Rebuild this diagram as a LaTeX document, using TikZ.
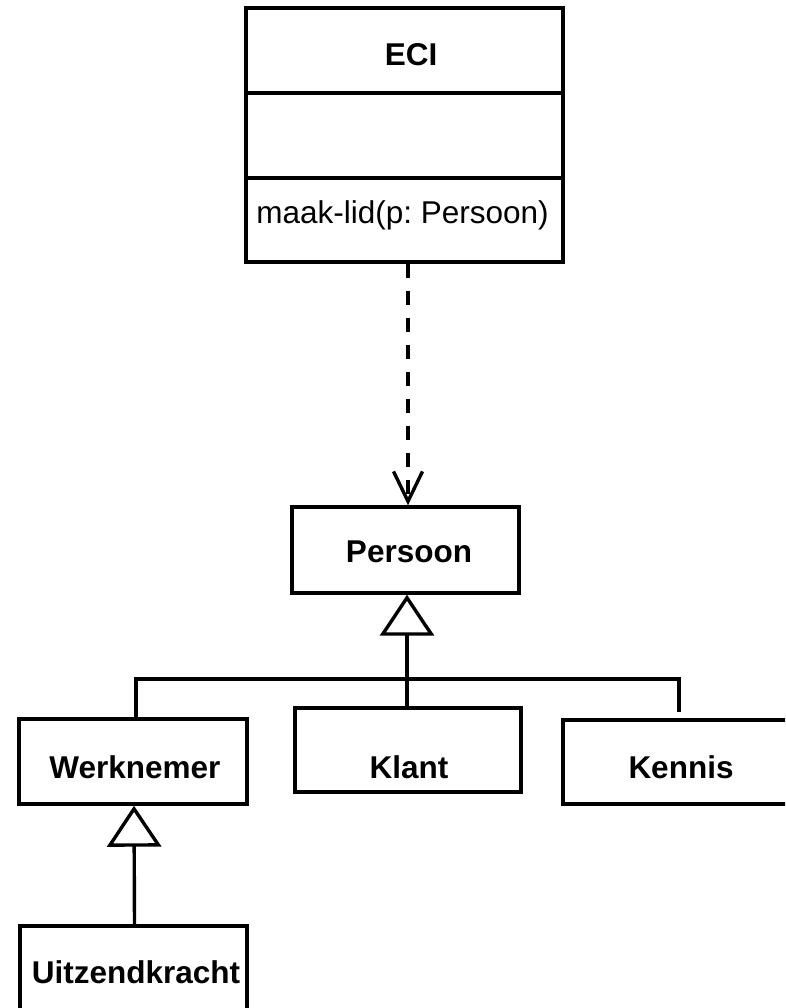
\documentclass[tikz,border=0pt]{standalone}
\usepackage{fontspec}
\setmainfont{Liberation Sans}
\usetikzlibrary{arrows.meta}
\frenchspacing
\begin{document}
\begin{tikzpicture}[x=1pt, y=-1pt, line width=3.4pt, line join=miter,
  box/.style={draw, rectangle, inner sep=0pt},
  title/.style={font=\fontsize{31.5}{36}\selectfont\bfseries, inner sep=0pt},
  oper/.style={font=\fontsize{31.5}{36}\selectfont, inner sep=0pt},
  dep/.style={dash pattern=on 14pt off 13pt,
    -{Straight Barb[length=30pt, width=29pt]}},
  gen/.style={-{Triangle[open, length=41pt, width=54pt]}},
]
\clip (0,0) rectangle (785,1008);

% class ECI with its three compartments
\node[box, minimum width=317pt, minimum height=254pt] (eci) at (404.5,135) {};
\draw (eci.west |- 0,93) -- (eci.east |- 0,93);
\draw (eci.west |- 0,178) -- (eci.east |- 0,178);
\node[title] (ecin) at (411,55) {ECI};
\node[oper] (ecio) at (402.5,215) {maak-lid(p: Persoon)};

% class Persoon
\node[box, minimum width=227pt, minimum height=86pt] (persoon) at (405.5,550) {};
\node[title] (persoont) at (409,552) {Persoon};

% subclasses
\node[box, minimum width=228pt, minimum height=85pt] (werknemer) at (133,761.5) {};
\node[title] (werknemert) at (135,767) {Werknemer};
\node[box, minimum width=226pt, minimum height=84pt] (klant) at (408,750) {};
\node[title] (klantt) at (409,767) {Klant};
\node[box, minimum width=236pt, minimum height=84pt] (kennis) at (681,762) {};
\node[title] (kennist) at (681,767) {Kennis};
\node[box, minimum width=227pt, minimum height=85pt] (uitz) at (133.5,968.5) {};
\node[title] (uitzt) at (136,972) {Uitzendkracht};

% dependency ECI -> Persoon
\draw[dep] ([xshift=3.5pt]eci.south) -- ([xshift=2.5pt]persoon.north);

% generalisation to Persoon
\coordinate (barR) at (679,679);
\coordinate (kenTop) at (679,712);
\draw[gen] ([xshift=-1pt]klant.north) -- ([xshift=1.5pt]persoon.south);
\draw ([xshift=3pt]werknemer.north) |- (barR) -- (kenTop);

% generalisation to Werknemer
\draw[gen] ([xshift=1pt]uitz.north) -- ([xshift=1pt]werknemer.south);
\end{tikzpicture}
\end{document}
